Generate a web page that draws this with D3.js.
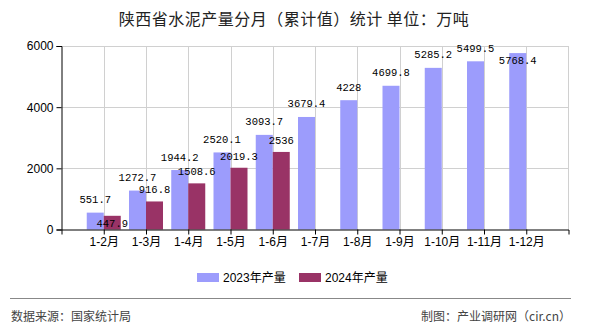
<!DOCTYPE html>
<html><head><meta charset="utf-8">
<script src="https://cdn.jsdelivr.net/npm/d3@7/dist/d3.min.js"></script>
<style>body{margin:0;background:#fff}svg{display:block}</style>
</head><body>
<svg id="c" width="590" height="330"></svg>
<script>
const categories = ["1-2月","1-3月","1-4月","1-5月","1-6月","1-7月","1-8月","1-9月","1-10月","1-11月","1-12月"];
const seriesNames = ["2023年产量","2024年产量"];
const values2023 = [551.7,1272.7,1944.2,2520.1,3093.7,3679.4,4228,4699.8,5285.2,5499.5,5768.4];
const values2024 = [447.9,916.8,1508.6,2019.3,2536,null,null,null,null,null,null];
const labels2023 = ["551.7","1272.7","1944.2","2520.1","3093.7","3679.4","4228","4699.8","5285.2","5499.5","5768.4"];
const labels2024 = ["447.9","916.8","1508.6","2019.3","2536"];
const yTicks = [0,2000,4000,6000];
const colors = ["#9c9cfc","#993366"];

const svg = d3.select("#c");
const L=61.5,R=568.5,T=46,B=229.5;
const x = d3.scalePoint().domain(categories).range([L,R]).padding(1);
const sub = d3.scaleBand().domain(seriesNames).range([-17,17]);
const y = d3.scaleLinear().domain([0,6000]).range([B,T]);
const sans = "'Liberation Sans','Noto Sans CJK SC',sans-serif";
const cjk = "'Noto Sans CJK SC',sans-serif";
const mono = "'Liberation Mono','DejaVu Sans Mono',monospace";

// title
svg.append("text").attr("x",294).attr("y",18).attr("text-anchor","middle")
  .attr("dominant-baseline","central").attr("font-family",cjk).attr("font-size",16)
  .attr("letter-spacing",0.5)
  .attr("fill","#222").text("陕西省水泥产量分月（累计值）统计 单位：万吨");

// grid
const g = svg.append("g");
g.selectAll(".hg").data(yTicks.filter(d=>d>0)).join("line")
  .attr("x1",L).attr("x2",R).attr("y1",d=>Math.round(y(d))+0.5).attr("y2",d=>Math.round(y(d))+0.5)
  .attr("stroke","#d0d0d0");
g.selectAll(".vg").data(categories).join("line")
  .attr("x1",d=>Math.round(x(d))+0.5).attr("x2",d=>Math.round(x(d))+0.5).attr("y1",T).attr("y2",B)
  .attr("stroke","#d0d0d0");
g.append("line").attr("x1",R).attr("x2",R).attr("y1",T).attr("y2",B).attr("stroke","#d0d0d0");

// bars
const all = [values2023, values2024];
all.forEach((vals,si)=>{
  svg.append("g").selectAll("rect").data(categories.map((c,i)=>({c,v:vals[i]})).filter(d=>d.v!=null))
    .join("rect")
    .attr("x",d=>x(d.c)+sub(seriesNames[si])).attr("width",sub.bandwidth())
    .attr("y",d=>y(d.v)).attr("height",d=>B-y(d.v)).attr("fill",colors[si]);
});

// axes
const yAxis = d3.axisLeft(y).tickValues(yTicks).tickSize(5).tickPadding(3).tickFormat(d3.format("d"));
const ya = svg.append("g").attr("transform",`translate(${L},0)`).call(yAxis);
ya.select(".domain").attr("stroke","#000");
ya.selectAll("text").attr("font-family",sans).attr("font-size",12).attr("fill","#000");
const xAxis = d3.axisBottom(x).tickSize(5).tickPadding(3).tickSizeOuter(5);
const xa = svg.append("g").attr("transform",`translate(0,${B})`).call(xAxis);
xa.select(".domain").attr("stroke","#000");
xa.selectAll("text").attr("font-family",sans).attr("font-size",12).attr("fill","#000");

// value labels
const lab = svg.append("g").attr("font-family",mono).attr("font-size",10.5).attr("fill","#000")
  .attr("text-anchor","middle");
const pos23 = values2023.map(v=>{let t=y(v)-12.5; if(t<T) t=y(v)+8; return t;});
values2023.forEach((v,i)=>{
  lab.append("text").attr("x",x(categories[i])+sub(seriesNames[0])+sub.bandwidth()/2)
    .attr("y",pos23[i]).attr("dominant-baseline","central").text(labels2023[i]);
});
labels2024.forEach((s,i)=>{
  const v=values2024[i]; let t=y(v)-11;
  if(Math.abs(t-pos23[i])<8 || t<T) t=y(v)+8;
  lab.append("text").attr("x",x(categories[i])+sub(seriesNames[1])+sub.bandwidth()/2)
    .attr("y",t).attr("dominant-baseline","central").text(s);
});

// legend
const lg = svg.append("g");
const lx=[197,299];
seriesNames.forEach((s,i)=>{
  lg.append("rect").attr("x",lx[i]).attr("y",273).attr("width",22).attr("height",9).attr("fill",colors[i]);
  lg.append("text").attr("x",lx[i]+26).attr("y",277.5).attr("dominant-baseline","central")
    .attr("font-family",sans).attr("font-size",12).attr("fill","#000").text(s);
});

// footer
svg.append("line").attr("x1",10).attr("x2",571).attr("y1",298.5).attr("y2",298.5).attr("stroke","#888").attr("stroke-width",1);
svg.append("text").attr("x",11).attr("y",315).attr("dominant-baseline","central")
  .attr("font-family",cjk).attr("font-size",12).attr("fill","#444").text("数据来源：国家统计局");
svg.append("text").attr("x",571).attr("y",315).attr("text-anchor","end").attr("dominant-baseline","central")
  .attr("font-family",cjk).attr("font-size",12).attr("fill","#444").text("制图：产业调研网（cir.cn）");
</script>
</body></html>
